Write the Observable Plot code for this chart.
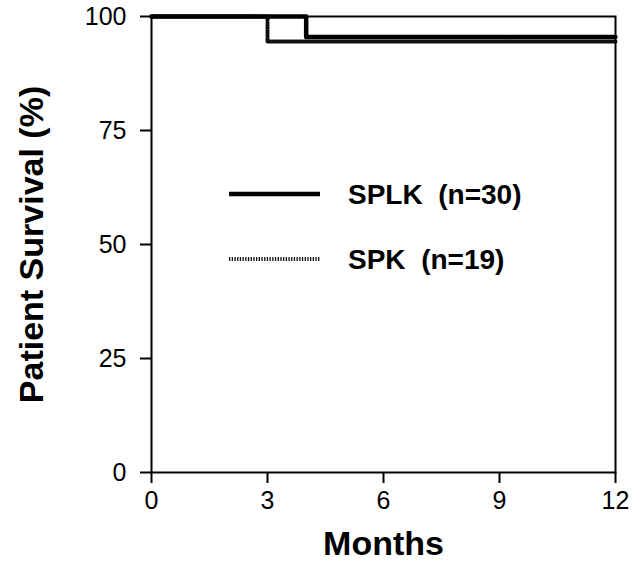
<!DOCTYPE html>
<html><head><meta charset="utf-8">
<script src="https://cdn.jsdelivr.net/npm/d3@7"></script>
<script src="https://cdn.jsdelivr.net/npm/@observablehq/plot@0.6"></script>
<style>
body{margin:0;background:#fff}
#chart{position:relative;width:644px;height:565px;font-family:"Liberation Sans",Arial,sans-serif}
#legend{position:absolute;left:0;top:0}
#chart g[aria-label$="axis tick"] path{stroke-width:2px}
#chart g[aria-label$="tick label"] text{font-size:25px}
</style>
</head><body><div id="chart"></div>
<script>
// Data
const monthsSPLK = [0, 4, 12];
const survivalSPLK = [100, 95.5, 95.5];
const monthsSPK = [0, 3, 12];
const survivalSPK = [100, 94.5, 94.5];
const xTicks = [0, 3, 6, 9, 12];
const yTicks = [0, 25, 50, 75, 100];
const seriesLabels = ["SPLK  (n=30)", "SPK  (n=19)"];
const xTitle = "Months";
const yTitle = "Patient Survival (%)";

const splk = monthsSPLK.map((m, i) => ({month: m, survival: survivalSPLK[i]}));
const spk = monthsSPK.map((m, i) => ({month: m, survival: survivalSPK[i]}));

const plot = Plot.plot({
  width: 644,
  height: 565,
  marginLeft: 151,
  marginRight: 29,
  marginTop: 16,
  marginBottom: 93,
  style: {fontFamily: '"Liberation Sans", Arial, sans-serif', fontSize: "25px", background: "#fff", color: "#000"},
  x: {domain: [0, 12], ticks: xTicks, tickSize: 11, tickPadding: 8, label: null},
  y: {domain: [0, 100], ticks: yTicks, tickSize: 11, tickPadding: 14, label: null},
  marks: [
    Plot.line(spk, {x: "month", y: "survival", curve: "step-after", stroke: "#111", strokeWidth: 4, strokeDasharray: "1.3,1.4"}),
    Plot.frame({stroke: "#000", strokeWidth: 2}),
    Plot.line(splk, {x: "month", y: "survival", curve: "step-after", stroke: "#000", strokeWidth: 4.5}),
    Plot.text([xTitle], {frameAnchor: "bottom", dy: 82, fontSize: 34, fontWeight: "bold", textAnchor: "middle"}),
    Plot.text([yTitle], {frameAnchor: "left", dx: -119, rotate: -90, fontSize: 34, fontWeight: "bold", textAnchor: "middle"})
  ]
});
const chart = document.getElementById("chart");
chart.appendChild(plot);

// Legend overlay
const leg = d3.select(chart).append("svg").attr("id", "legend").attr("width", 644).attr("height", 565);
const styles = [{stroke: "#000", width: 4.5, dash: null}, {stroke: "#111", width: 4, dash: "1.3,1.4"}];
seriesLabels.forEach((lab, i) => {
  const cy = 194 + i * 65;
  leg.append("line").attr("x1", 229).attr("x2", 320).attr("y1", cy).attr("y2", cy)
    .attr("stroke", styles[i].stroke).attr("stroke-width", styles[i].width)
    .attr("stroke-dasharray", styles[i].dash);
  leg.append("text").attr("x", 348).attr("y", cy + 10)
    .attr("font-size", 28).attr("font-weight", "bold")
    .attr("font-family", '"Liberation Sans", Arial, sans-serif')
    .style("white-space", "pre").text(lab);
});
</script>
</body></html>
